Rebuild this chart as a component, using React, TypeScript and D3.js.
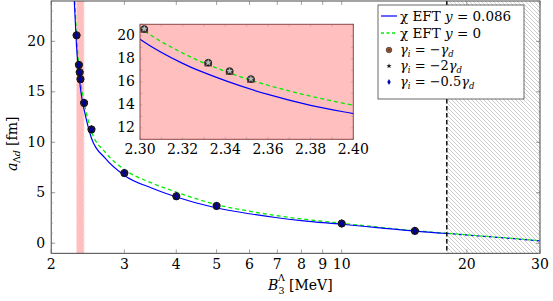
import React from 'react';
import * as d3 from 'd3';

// Blue solid curve (chi EFT y = 0.086)
const blueX = [2.273, 2.30, 2.32, 2.34, 2.36, 2.38, 2.40, 2.5, 2.7, 3.0, 3.5, 4.0, 5.0, 6.0, 7.0, 8.0, 10, 12, 15, 17.9];
const blueY = [24, 19.7, 17.6, 16.1, 14.9, 13.95, 13.23, 10.4, 8.4, 6.72, 5.45, 4.58, 3.49, 2.92, 2.52, 2.24, 1.88, 1.57, 1.19, 0.96];
const blueXOut = [17.9, 22, 26, 30];
const blueYOut = [0.96, 0.68, 0.45, 0.23];
// Green dashed curve (chi EFT y = 0)
const greenX = [2.28, 2.30, 2.32, 2.34, 2.36, 2.38, 2.40, 2.5, 2.7, 3.0, 3.5, 4.0, 5.0, 6.0, 7.0, 8.0, 10, 12, 15, 17.9];
const greenY = [24, 20.7, 18.5, 16.9, 15.7, 14.75, 13.96, 11.1, 9.0, 7.3, 5.95, 5.07, 3.82, 3.17, 2.72, 2.41, 1.97, 1.63, 1.23, 0.99];
const greenXOut = [17.9, 22, 26, 30];
const greenYOut = [0.99, 0.70, 0.46, 0.25];
// data points
const pointX = [2.302, 2.332, 2.342, 2.352, 2.40, 2.50, 3.0, 4.0, 5.0, 10, 15];
const pointY = [20.6, 17.67, 16.94, 16.25, 13.9, 11.27, 6.95, 4.65, 3.69, 1.95, 1.22];

const xTicks = [2, 3, 4, 5, 6, 7, 8, 9, 10, 20, 30];
const yTicks = [0, 5, 10, 15, 20];
const yMinor = d3.range(-1, 25, 1);
const insetXTicks = [2.30, 2.32, 2.34, 2.36, 2.38, 2.40];
const insetXMinor = d3.range(0, 11).map((i) => 2.30 + i * 0.01);
const insetYTicks = [12, 14, 16, 18, 20];
const insetYMinor = d3.range(11, 22, 1);
const cutoff = 17.9;
const band = [2.3, 2.4];

const FONT = "'DejaVu Serif', 'Times New Roman', Times, 'Liberation Serif', serif";
const BROWN = '#a0522d';
const BLUE = '#0000ff';
const GREEN = '#00ee00';

export default function App() {
  const x = d3.scaleLog().domain([2, 30]).range([51.2, 540]);
  const y = d3.scaleLinear().domain([-1, 24]).range([253.3, 1]);
  const ix = d3.scaleLinear().domain([2.30, 2.40]).range([140, 353.3]);
  const iy = d3.scaleLinear().domain([11, 21]).range([139.3, 24.3]);

  const L = x.range()[0], R = x.range()[1], T = y.range()[1], B = y.range()[0];
  const iL = ix.range()[0], iR = ix.range()[1], iT = iy.range()[1], iB = iy.range()[0];

  const mk = (sx: any, sy: any, xs: number[], ys: number[]) =>
    d3.line<[number, number]>().x((d) => sx(d[0])).y((d) => sy(d[1])).curve(d3.curveMonotoneX)(
      xs.map((v, i) => [v, ys[i]] as [number, number])
    ) || '';

  const star = d3.symbol().type(d3.symbolStar).size(22)() || '';
  const starSmall = d3.symbol().type(d3.symbolStar).size(14)() || '';
  const diamond = d3.symbol().type(d3.symbolDiamond).size(16)() || '';

  const insetPts = pointX.map((v, i) => [v, pointY[i]]).filter((p) => p[0] >= 2.30 && p[0] < 2.40);

  const legendRows = [16, 33, 50, 66, 82];
  const lgX = 378, lgW = 146;
  const ts = { fontFamily: FONT } as React.CSSProperties;

  const gammaText = (mid: string, yy: number, key: string) => (
    <text key={key} x={400} y={yy + 4} fontSize={13} style={ts}>
      <tspan fontStyle="italic">γ</tspan>
      <tspan fontSize={8.5} fontStyle="italic" dy={2.5}>i</tspan>
      <tspan dy={-2.5}>{' ' + mid}</tspan>
      <tspan fontStyle="italic">γ</tspan>
      <tspan fontSize={8.5} fontStyle="italic" dy={2.5}>d</tspan>
    </text>
  );

  return (
    <svg width={553} height={301} style={{ position: 'absolute', left: 0, top: 0, background: '#fff', fontFamily: FONT }}>
      <defs>
        <clipPath id="main-clip"><rect x={L} y={T} width={R - L} height={B - T} /></clipPath>
        <clipPath id="inset-clip"><rect x={iL} y={iT} width={iR - iL} height={iB - iT} /></clipPath>
        <pattern id="hatch" width={4} height={4} patternUnits="userSpaceOnUse">
          <path d="M-1,-1 L5,5 M-1,3 L1,5 M3,-1 L5,1" stroke="#b8b8b8" strokeWidth={0.7} />
        </pattern>
      </defs>

      {/* hatched region */}
      <rect x={x(cutoff)} y={T} width={R - x(cutoff)} height={B - T} fill="url(#hatch)" />
      {/* pink band */}
      <rect x={x(band[0])} y={T} width={x(band[1]) - x(band[0])} height={B - T} fill="#ffbfbf" />
      {band.map((b) => (
        <line key={b} x1={x(b)} x2={x(b)} y1={T} y2={B} stroke="#ffe4e4" strokeWidth={1} strokeDasharray="3,2" />
      ))}

      {/* curves */}
      <g clipPath="url(#main-clip)" fill="none">
        <path d={mk(x, y, greenX, greenY)} stroke={GREEN} strokeWidth={1.3} strokeDasharray="4,3" />
        <path d={mk(x, y, blueX, blueY)} stroke={BLUE} strokeWidth={1.2} />
        <path d={mk(x, y, blueXOut, blueYOut)} stroke={BLUE} strokeWidth={1.2} strokeDasharray="3,3" />
        <path d={mk(x, y, greenXOut, greenYOut)} stroke={GREEN} strokeWidth={1.2} strokeDasharray="3,3" strokeDashoffset={3} />
      </g>

      {/* cutoff line */}
      <line x1={x(cutoff)} x2={x(cutoff)} y1={T} y2={B} stroke="#111" strokeWidth={1.5} strokeDasharray="4.5,2.5" />

      {/* points */}
      {pointX.map((v, i) => (
        <g key={i} transform={`translate(${x(v)},${y(pointY[i])})`}>
          <circle r={3.6} fill="#3a2a20" stroke="#111" strokeWidth={1} />
          <path d={star} fill="#111" />
          <path d={diamond} fill="#0000b0" stroke="#000060" strokeWidth={0.5} />
        </g>
      ))}

      {/* main frame */}
      <rect x={L} y={T} width={R - L} height={B - T} fill="none" stroke="#333" strokeWidth={0.9} />
      {/* x ticks */}
      {xTicks.map((t) => (
        <g key={t}>
          <line x1={x(t)} x2={x(t)} y1={B} y2={B - 4} stroke="#666" strokeWidth={0.6} />
          <line x1={x(t)} x2={x(t)} y1={T} y2={T + 4} stroke="#666" strokeWidth={0.6} />
          <text x={x(t)} y={B + 16} textAnchor="middle" fontSize={14} style={ts}>{t}</text>
        </g>
      ))}
      {/* y ticks */}
      {yMinor.map((t) => (
        <g key={'m' + t}>
          <line x1={L} x2={L + 2} y1={y(t)} y2={y(t)} stroke="#888" strokeWidth={0.5} />
          <line x1={R} x2={R - 2} y1={y(t)} y2={y(t)} stroke="#888" strokeWidth={0.5} />
        </g>
      ))}
      {yTicks.map((t) => (
        <g key={t}>
          <line x1={L} x2={L + 4} y1={y(t)} y2={y(t)} stroke="#666" strokeWidth={0.6} />
          <line x1={R} x2={R - 4} y1={y(t)} y2={y(t)} stroke="#666" strokeWidth={0.6} />
          <text x={L - 6} y={y(t) + 4.5} textAnchor="end" fontSize={14} style={ts}>{t}</text>
        </g>
      ))}

      {/* axis labels */}
      <g style={ts}>
        <text x={268} y={290} fontSize={14} fontStyle="italic">B</text>
        <text x={278} y={281} fontSize={9.5}>Λ</text>
        <text x={278.5} y={294} fontSize={9.5}>3</text>
        <text x={289} y={290} fontSize={14}>[MeV]</text>
      </g>
      <g transform={`translate(17,147) rotate(-90)`} style={ts}>
        <text x={-24} y={0} fontSize={14} fontStyle="italic">a</text>
        <text x={-16} y={3} fontSize={9.5}>Λ<tspan fontStyle="italic">d</tspan></text>
        <text x={1} y={0} fontSize={14}>[fm]</text>
      </g>

      {/* inset */}
      <rect x={iL} y={iT} width={iR - iL} height={iB - iT} fill="#ffbfbf" />
      <g clipPath="url(#inset-clip)" fill="none">
        <path d={mk(ix, iy, greenX, greenY)} stroke={GREEN} strokeWidth={1.3} strokeDasharray="4,3" />
        <path d={mk(ix, iy, blueX, blueY)} stroke={BLUE} strokeWidth={1.2} />
      </g>
      {insetPts.map((p, i) => (
        <g key={i} transform={`translate(${ix(p[0])},${iy(p[1])})`}>
          <rect x={-3.5} y={-1} width={7} height={4.5} fill={BROWN} stroke="#222" strokeWidth={0.5} />
          <circle r={3.3} fill="#444" stroke="#111" strokeWidth={0.8} />
          <path d={starSmall} fill="#bbb" />
        </g>
      ))}
      {insetXMinor.map((t, i) => (
        <g key={'ixm' + i}>
          <line x1={ix(t)} x2={ix(t)} y1={iB} y2={iB - 2.5} stroke="#999" strokeWidth={0.5} />
          <line x1={ix(t)} x2={ix(t)} y1={iT} y2={iT + 2.5} stroke="#999" strokeWidth={0.5} />
        </g>
      ))}
      {insetYMinor.map((t) => (
        <g key={'iym' + t}>
          <line x1={iL} x2={iL + 2.5} y1={iy(t)} y2={iy(t)} stroke="#999" strokeWidth={0.5} />
          <line x1={iR} x2={iR - 2.5} y1={iy(t)} y2={iy(t)} stroke="#999" strokeWidth={0.5} />
        </g>
      ))}
      {insetXTicks.map((t) => (
        <text key={'ixt' + t} x={ix(t)} y={iB + 15} textAnchor="middle" fontSize={14} style={ts}>{t.toFixed(2)}</text>
      ))}
      {insetYTicks.map((t) => (
        <text key={'iyt' + t} x={iL - 5} y={iy(t) + 4.5} textAnchor="end" fontSize={14} style={ts}>{t}</text>
      ))}
      <rect x={iL} y={iT} width={iR - iL} height={iB - iT} fill="none" stroke="#8c4646" strokeWidth={1} />

      {/* legend */}
      <rect x={lgX} y={5} width={lgW} height={94} fill="#fff" stroke="#444" strokeWidth={0.8} />
      <line x1={381} x2={397} y1={legendRows[0]} y2={legendRows[0]} stroke={BLUE} strokeWidth={1.2} />
      <line x1={381} x2={397} y1={legendRows[1]} y2={legendRows[1]} stroke={GREEN} strokeWidth={1.3} strokeDasharray="3,2.5" />
      <g transform={`translate(389,${legendRows[2]})`}>
        <circle r={2.8} fill={BROWN} stroke="#222" strokeWidth={0.6} />
        <circle r={0.7} fill="#222" />
      </g>
      <path d={starSmall} transform={`translate(389,${legendRows[3]}) scale(0.8)`} fill="#111" />
      <path d={diamond} transform={`translate(389,${legendRows[4]}) scale(0.8)`} fill="#0000b0" />
      <text x={400} y={legendRows[0] + 4.5} fontSize={13.5} style={ts}>
        χ EFT <tspan fontStyle="italic">y</tspan> = 0.086
      </text>
      <text x={400} y={legendRows[1] + 4.5} fontSize={13.5} style={ts}>
        χ EFT <tspan fontStyle="italic">y</tspan> = 0
      </text>
      {gammaText('= −', legendRows[2], 'g1')}
      {gammaText('= −2', legendRows[3], 'g2')}
      {gammaText('= −0.5', legendRows[4], 'g3')}
    </svg>
  );
}
